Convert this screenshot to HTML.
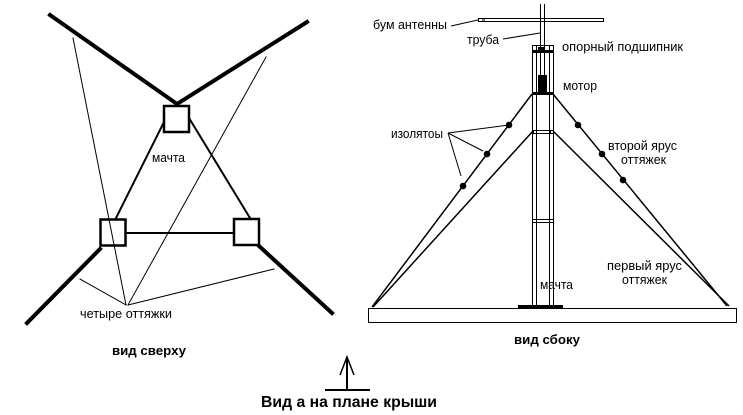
<!DOCTYPE html>
<html>
<head>
<meta charset="utf-8">
<style>
  html, body { margin:0; padding:0; background:#fff; }
  svg { display:block; }
  text { font-family: "Liberation Sans", "DejaVu Sans", sans-serif; fill:#000; }
</style>
</head>
<body>
<svg width="743" height="415" viewBox="0 0 743 415" xmlns="http://www.w3.org/2000/svg">
  <rect x="0" y="0" width="743" height="415" fill="#fff"/>

  <!-- ===== LEFT: top view ===== -->
  <g stroke="#000" fill="none" stroke-linecap="square">
    <!-- thick antenna elements -->
    <line x1="50" y1="15" x2="177" y2="104" stroke-width="4"/>
    <line x1="307" y1="22" x2="177" y2="104" stroke-width="4"/>
    <line x1="100" y1="249" x2="27" y2="323" stroke-width="4"/>
    <line x1="259" y1="246" x2="332" y2="313" stroke-width="4"/>
    <!-- boxes -->
    <rect x="164" y="106" width="25" height="26" stroke-width="2.5"/>
    <rect x="100.5" y="219.5" width="25" height="26" stroke-width="2.5"/>
    <rect x="234" y="219" width="25" height="26" stroke-width="2.5"/>
    <!-- triangle connections -->
    <line x1="164" y1="122" x2="116" y2="218" stroke-width="2"/>
    <line x1="189" y1="118" x2="250" y2="218" stroke-width="2"/>
    <line x1="126" y1="233" x2="234" y2="233" stroke-width="2"/>
    <!-- thin leaders -->
    <line x1="73" y1="38" x2="126" y2="305" stroke-width="1"/>
    <line x1="266" y1="57" x2="128" y2="305" stroke-width="1"/>
    <line x1="80" y1="279" x2="126" y2="305" stroke-width="1"/>
    <line x1="274" y1="269" x2="128" y2="305" stroke-width="1"/>
  </g>
  <text x="152" y="162" font-size="12.5" textLength="33" lengthAdjust="spacingAndGlyphs">мачта</text>
  <text x="80" y="318" font-size="12.5" textLength="92" lengthAdjust="spacingAndGlyphs">четыре оттяжки</text>
  <text x="112" y="355" font-size="12.5" font-weight="bold" textLength="74" lengthAdjust="spacingAndGlyphs">вид сверху</text>

  <!-- ===== Bottom arrow ===== -->
  <g stroke="#000" fill="none">
    <line x1="347" y1="357" x2="347" y2="390" stroke-width="2"/>
    <line x1="325" y1="390" x2="370" y2="390" stroke-width="2"/>
    <polyline points="340,375 347,357 354,375" stroke-width="1.5"/>
  </g>
  <text x="261" y="407" font-size="16" font-weight="bold" textLength="176" lengthAdjust="spacingAndGlyphs">Вид а на плане крыши</text>

  <!-- ===== RIGHT: side view ===== -->
  <g stroke="#000" fill="none">
    <!-- base -->
    <rect x="368.5" y="308.5" width="368" height="14" stroke-width="1"/>
    <!-- boom -->
    <rect x="478.5" y="18.5" width="125" height="3" stroke-width="1"/>
    <line x1="482" y1="20" x2="485" y2="20" stroke-width="1"/>
    <!-- pipe -->
    <line x1="540.5" y1="4" x2="540.5" y2="75" stroke-width="1"/>
    <line x1="544.5" y1="4" x2="544.5" y2="75" stroke-width="1"/>
    <!-- mast walls -->
    <line x1="532.5" y1="45" x2="532.5" y2="306" stroke-width="1"/>
    <line x1="536.5" y1="45" x2="536.5" y2="306" stroke-width="1"/>
    <line x1="549.5" y1="45" x2="549.5" y2="306" stroke-width="1"/>
    <line x1="553.5" y1="45" x2="553.5" y2="306" stroke-width="1"/>
    <line x1="532" y1="45.5" x2="554" y2="45.5" stroke-width="1"/>
    <!-- mid double bars -->
    <line x1="532" y1="130.5" x2="554" y2="130.5" stroke-width="1"/>
    <line x1="532" y1="133.5" x2="554" y2="133.5" stroke-width="1"/>
    <line x1="532" y1="219.5" x2="554" y2="219.5" stroke-width="1"/>
    <line x1="532" y1="222.5" x2="554" y2="222.5" stroke-width="1"/>
    <!-- guys -->
    <line x1="532" y1="94" x2="372" y2="307" stroke-width="1.5"/>
    <line x1="533" y1="131" x2="373" y2="307" stroke-width="1.5"/>
    <line x1="553" y1="94" x2="727" y2="306" stroke-width="1.5"/>
    <line x1="553" y1="131" x2="729" y2="306" stroke-width="1.5"/>
    <!-- leaders -->
    <line x1="451" y1="26" x2="478" y2="20" stroke-width="1"/>
    <line x1="503" y1="39" x2="540" y2="33" stroke-width="1"/>
    <line x1="448" y1="133" x2="509" y2="125" stroke-width="1"/>
    <line x1="448" y1="133" x2="483" y2="151" stroke-width="1"/>
    <line x1="448" y1="133" x2="461" y2="176" stroke-width="1"/>
  </g>
  <g fill="#000">
    <rect x="518" y="305" width="45" height="3"/>
    <rect x="532" y="50" width="22" height="3"/>
    <rect x="538" y="47" width="7" height="3"/>
    <rect x="538" y="75" width="9" height="18"/>
    <rect x="532" y="92" width="22" height="3"/>
    <rect x="532" y="130" width="2" height="4"/>
    <rect x="549" y="130" width="2" height="4"/>
    <!-- insulators -->
    <circle cx="509" cy="125" r="3.3"/>
    <circle cx="487" cy="154" r="3.3"/>
    <circle cx="463" cy="186" r="3.3"/>
    <circle cx="578" cy="125" r="3.3"/>
    <circle cx="602" cy="154" r="3.3"/>
    <circle cx="623" cy="180" r="3.3"/>
  </g>

  <text x="373" y="29" font-size="12.5" textLength="74" lengthAdjust="spacingAndGlyphs">бум антенны</text>
  <text x="467" y="44" font-size="12.5" textLength="32" lengthAdjust="spacingAndGlyphs">труба</text>
  <text x="562" y="51" font-size="12.5" textLength="121" lengthAdjust="spacingAndGlyphs">опорный подшипник</text>
  <text x="563" y="90" font-size="12.5" textLength="34" lengthAdjust="spacingAndGlyphs">мотор</text>
  <text x="391" y="138" font-size="12.5" textLength="52" lengthAdjust="spacingAndGlyphs">изолятоы</text>
  <text x="608" y="150" font-size="12.5" textLength="69" lengthAdjust="spacingAndGlyphs">второй ярус</text>
  <text x="621" y="164" font-size="12.5" textLength="45" lengthAdjust="spacingAndGlyphs">оттяжек</text>
  <text x="607" y="270" font-size="12.5" textLength="75" lengthAdjust="spacingAndGlyphs">первый ярус</text>
  <text x="622" y="284" font-size="12.5" textLength="45" lengthAdjust="spacingAndGlyphs">оттяжек</text>
  <text x="540" y="289" font-size="12.5" textLength="33" lengthAdjust="spacingAndGlyphs">мачта</text>
  <text x="514" y="344" font-size="12.5" font-weight="bold" textLength="66" lengthAdjust="spacingAndGlyphs">вид сбоку</text>
</svg>
</body>
</html>
